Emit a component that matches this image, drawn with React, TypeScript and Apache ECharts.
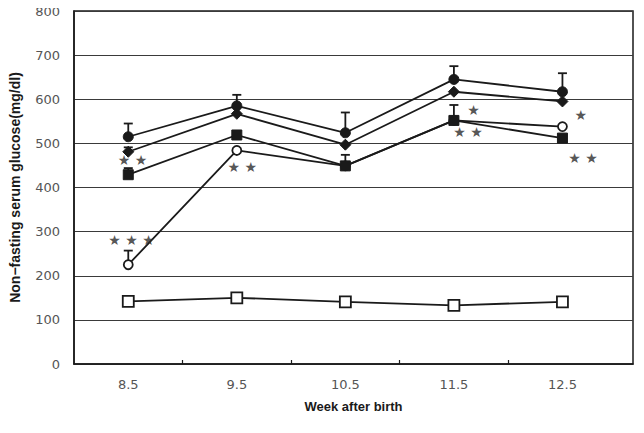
import React, { useEffect, useRef } from "react";
import * as echarts from "echarts";

// Weeks after birth (x positions of measurements)
const weeks = [8.5, 9.5, 10.5, 11.5, 12.5];

// Non-fasting serum glucose (mg/dl) per group
const filledCircle = [515, 585, 524, 645, 617];
const filledCircleErr = [30, 25, 46, 30, 42];
const diamond = [481, 567, 497, 617, 595];
const diamondErr = [10, 0, 0, 0, 0];
const filledSquare = [429, 519, 449, 552, 512];
const filledSquareErr = [15, 8, 25, 35, 0];
const openCircle = [225, 484, 449, 552, 538];
const openCircleErr = [32, 0, 0, 0, 0];
const openSquare = [142, 150, 141, 133, 141];

// Significance marks: [week, glucose, text]
const starMarks: [number, number, string][] = [
  [8.54, 463, "★ ★"],
  [8.53, 282, "★ ★ ★"],
  [9.55, 447, "★ ★"],
  [11.68, 576, "★"],
  [11.63, 526, "★ ★"],
  [12.67, 565, "★"],
  [12.69, 467, "★ ★"],
];

const yTicks = [0, 100, 200, 300, 400, 500, 600, 700, 800];
const xTickMarks = [9, 10, 11, 12];

const pairs = (vals: number[]) => weeks.map((w, i) => [w, vals[i]]);
const errPairs = (vals: number[], errs: number[]) =>
  weeks.map((w, i) => [w, vals[i], vals[i] + errs[i]]).filter((d, i) => errs[i] > 0);

const lineSeries = (
  name: string,
  vals: number[],
  symbol: string,
  size: number,
  filled: boolean,
  z: number
) => ({
  name,
  type: "line",
  data: pairs(vals),
  symbol,
  symbolSize: size,
  showAllSymbol: true,
  z,
  lineStyle: { color: "#1a1a1a", width: 1.8 },
  itemStyle: {
    color: filled ? "#1a1a1a" : "#ffffff",
    borderColor: "#1a1a1a",
    borderWidth: filled ? 1 : 1.8,
  },
});

const errorSeries = (vals: number[], errs: number[]) => ({
  type: "custom",
  data: errPairs(vals, errs),
  z: 1,
  renderItem: (params: any, api: any) => {
    const base = api.coord([api.value(0), api.value(1)]);
    const top = api.coord([api.value(0), api.value(2)]);
    const half = 4.5;
    return {
      type: "group",
      children: [
        {
          type: "line",
          shape: { x1: base[0], y1: base[1], x2: top[0], y2: top[1] },
          style: { stroke: "#1a1a1a", lineWidth: 1.8 },
        },
        {
          type: "line",
          shape: { x1: top[0] - half, y1: top[1], x2: top[0] + half, y2: top[1] },
          style: { stroke: "#1a1a1a", lineWidth: 1.8 },
        },
      ],
    };
  },
});

export default function App() {
  const ref = useRef<HTMLDivElement>(null);

  useEffect(() => {
    if (!ref.current) return;
    const chart = echarts.init(ref.current, null, { renderer: "svg" });
    chart.setOption({
      animation: false,
      backgroundColor: "#ffffff",
      grid: {
        left: 70,
        right: 11,
        top: 11,
        bottom: 69,
        show: true,
        borderColor: "#1a1a1a",
        borderWidth: 1.5,
      },
      xAxis: {
        type: "value",
        min: 8,
        max: 13.15,
        name: "Week after birth",
        nameLocation: "middle",
        nameGap: 36,
        nameTextStyle: {
          fontFamily: "Liberation Sans",
          fontWeight: "bold",
          fontSize: 13,
          color: "#1a1a1a",
        },
        axisLine: { show: true, onZero: false, lineStyle: { color: "#1a1a1a", width: 1.5 } },
        axisTick: {
          show: true,
          inside: true,
          length: 4,
          customValues: xTickMarks,
          lineStyle: { color: "#1a1a1a", width: 1.2 },
        },
        axisLabel: {
          customValues: weeks,
          formatter: (v: number) => v.toFixed(1),
          fontFamily: "DejaVu Sans",
          fontSize: 13,
          color: "#555555",
          margin: 14,
        },
        splitLine: { show: false },
      },
      yAxis: {
        type: "value",
        min: 0,
        max: 800,
        interval: 100,
        name: "Non−fasting serum glucose(mg/dl)",
        nameLocation: "middle",
        nameRotate: 90,
        nameGap: 52,
        nameTextStyle: {
          fontFamily: "Liberation Sans",
          fontWeight: "bold",
          fontSize: 14,
          color: "#1a1a1a",
        },
        axisLine: { show: true, lineStyle: { color: "#1a1a1a", width: 1.5 } },
        axisTick: { show: false },
        axisLabel: {
          customValues: yTicks,
          fontFamily: "DejaVu Sans",
          fontSize: 13,
          color: "#555555",
          margin: 14,
        },
        splitLine: { show: true, lineStyle: { color: "#3a3a3a", width: 1 } },
      },
      series: [
        errorSeries(filledCircle, filledCircleErr),
        errorSeries(diamond, diamondErr),
        errorSeries(filledSquare, filledSquareErr),
        errorSeries(openCircle, openCircleErr),
        lineSeries("control", openSquare, "rect", 11, false, 3),
        lineSeries("openCircle", openCircle, "circle", 9, false, 3),
        lineSeries("filledSquare", filledSquare, "rect", 10, true, 4),
        lineSeries("diamond", diamond, "diamond", 11, true, 4),
        lineSeries("filledCircle", filledCircle, "circle", 10, true, 5),
        {
          type: "scatter",
          data: starMarks.map((m) => ({ value: [m[0], m[1]], text: m[2] })),
          symbolSize: 0,
          z: 6,
          label: {
            show: true,
            position: "inside",
            formatter: (p: any) => p.data.text,
            fontFamily: "DejaVu Sans",
            fontSize: 14,
            color: "#2a2a2a",
          },
        },
      ],
    });
    return () => chart.dispose();
  }, []);

  return <div ref={ref} style={{ width: 644, height: 433, margin: -8 }} />;
}
